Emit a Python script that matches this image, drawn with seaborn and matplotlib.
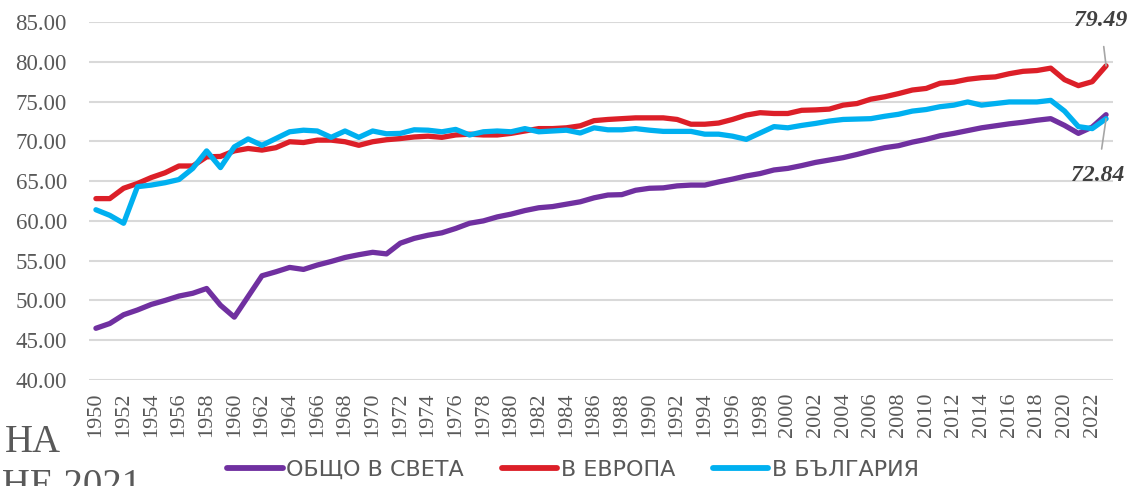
import matplotlib
matplotlib.use("Agg")
import matplotlib.pyplot as plt
import seaborn as sns
import pandas as pd
import numpy as np

years = list(range(1950, 2024))

world = [46.5, 47.1, 48.2, 48.8, 49.5, 50.0, 50.55, 50.9, 51.5, 49.4,
         47.9, 50.5, 53.1, 53.6, 54.15, 53.9, 54.45, 54.9, 55.4, 55.75,
         56.05, 55.85, 57.2, 57.8, 58.2, 58.5, 59.05, 59.7, 60.0, 60.5,
         60.85, 61.3, 61.65, 61.8, 62.1, 62.4, 62.9, 63.25, 63.3, 63.85,
         64.1, 64.15, 64.4, 64.5, 64.5, 64.9, 65.25, 65.65, 65.95, 66.4,
         66.6, 66.95, 67.35, 67.65, 67.95, 68.35, 68.8, 69.2, 69.45, 69.9,
         70.25, 70.7, 71.0, 71.35, 71.7, 71.95, 72.2, 72.4, 72.65, 72.85,
         72.0, 71.0, 71.8, 73.35]

europe = [62.8, 62.8, 64.1, 64.7, 65.45, 66.05, 66.9, 66.9, 68.05, 68.1,
          68.8, 69.1, 68.9, 69.2, 69.95, 69.85, 70.15, 70.15, 69.95, 69.5,
          69.95, 70.2, 70.35, 70.55, 70.65, 70.5, 70.8, 70.9, 70.8, 70.8,
          71.0, 71.3, 71.6, 71.6, 71.7, 71.95, 72.6, 72.75, 72.85, 72.95,
          72.95, 72.95, 72.75, 72.15, 72.15, 72.3, 72.75, 73.3, 73.6, 73.5,
          73.5, 73.9, 73.95, 74.05, 74.55, 74.75, 75.3, 75.6, 76.0, 76.45,
          76.65, 77.3, 77.45, 77.8, 78.0, 78.1, 78.5, 78.8, 78.9, 79.2,
          77.75, 77.0, 77.5, 79.49]

bulgaria = [61.4, 60.7, 59.7, 64.3, 64.5, 64.8, 65.2, 66.6, 68.8, 66.7,
            69.3, 70.3, 69.5, 70.35, 71.2, 71.4, 71.3, 70.5, 71.3, 70.5,
            71.3, 70.95, 71.0, 71.45, 71.4, 71.2, 71.5, 70.8, 71.2, 71.3,
            71.2, 71.6, 71.2, 71.3, 71.4, 71.05, 71.7, 71.45, 71.45, 71.6,
            71.4, 71.25, 71.25, 71.25, 70.9, 70.9, 70.65, 70.25, 71.05, 71.85,
            71.7, 72.0, 72.25, 72.55, 72.75, 72.8, 72.85, 73.15, 73.4, 73.8,
            74.0, 74.35, 74.55, 74.95, 74.55, 74.75, 74.95, 74.95, 74.95, 75.15,
            73.8, 71.85, 71.6, 72.84]

series_names = ["ОБЩО В СВЕТА", "В ЕВРОПА", "В БЪЛГАРИЯ"]
colors = ["#7030A0", "#DC1F28", "#00B0F0"]
yticks = [40, 45, 50, 55, 60, 65, 70, 75, 80, 85]
xtick_years = list(range(1950, 2023, 2))

df = pd.concat([
    pd.DataFrame({"year": years, "value": world, "series": series_names[0]}),
    pd.DataFrame({"year": years, "value": europe, "series": series_names[1]}),
    pd.DataFrame({"year": years, "value": bulgaria, "series": series_names[2]}),
])

sns.set_theme(style="white")
plt.rcParams["font.family"] = ["Liberation Serif", "DejaVu Serif"]

fig = plt.figure(figsize=(11.32, 4.86), dpi=100)
ax = fig.add_axes([89 / 1132, 1 - 380 / 486, (1113 - 89) / 1132, (380 - 22) / 486])

sns.lineplot(data=df, x="year", y="value", hue="series", hue_order=series_names,
             palette=colors, linewidth=3.8, ax=ax, legend=True, zorder=3)

ax.set_xlim(1949.5, 2023.5)
ax.set_ylim(40, 85)
ax.set_yticks(yticks)
ax.set_yticklabels([f"{v:.2f}" for v in yticks])
ax.set_xticks(xtick_years)
ax.set_xticklabels([str(y) for y in xtick_years], rotation=90)
ax.grid(axis="y", color="#D9D9D9", linewidth=1.5, zorder=0)
ax.grid(axis="x", visible=False)
for s in ax.spines.values():
    s.set_visible(False)
ax.tick_params(axis="y", length=0, pad=16, labelsize=16.5, labelcolor="#595959")
ax.tick_params(axis="x", length=0, pad=9, labelsize=16, labelcolor="#595959")
ax.set_xlabel("")
ax.set_ylabel("")

handles, labels = ax.get_legend_handles_labels()
for h in handles:
    h.set_linewidth(4.2)
ax.legend(handles, labels, loc="center", bbox_to_anchor=(573 / 1132, 1 - 470 / 486),
          bbox_transform=fig.transFigure, ncol=3, frameon=False,
          handlelength=2.5, handletextpad=0.15, columnspacing=1.7,
          prop={"family": ["DejaVu Sans"], "size": 16},
          labelcolor="#595959")

ann_font = dict(fontsize=17, fontweight="bold", fontstyle="italic", color="#404040",
                family=["Liberation Serif", "DejaVu Serif"], ha="center", va="center")
ax.annotate(f"{europe[-1]:.2f}", xy=(years[-1], europe[-1]), xytext=(2022.6, 85.2),
            annotation_clip=False,
            arrowprops=dict(arrowstyle="-", color="#A6A6A6", lw=1.2, shrinkA=9, shrinkB=0),
            **ann_font)
ax.annotate(f"{bulgaria[-1]:.2f}", xy=(years[-1], bulgaria[-1]), xytext=(2022.4, 65.75),
            annotation_clip=False,
            arrowprops=dict(arrowstyle="-", color="#A6A6A6", lw=1.2, shrinkA=9, shrinkB=0),
            **ann_font)

# stray title fragments at the left edge (cut off in the original too)
fig.text(5 / 1132, 1 - 452 / 486, "НА", ha="left", va="baseline", fontsize=28,
         color="#595959", family=["Liberation Serif", "DejaVu Serif"])
fig.text(141 / 1132, 1 - 496 / 486, "РАЖДАНЕ 2021", ha="right", va="baseline", fontsize=28,
         color="#595959", family=["Liberation Serif", "DejaVu Serif"])

fig.savefig("out.png", dpi=100)
